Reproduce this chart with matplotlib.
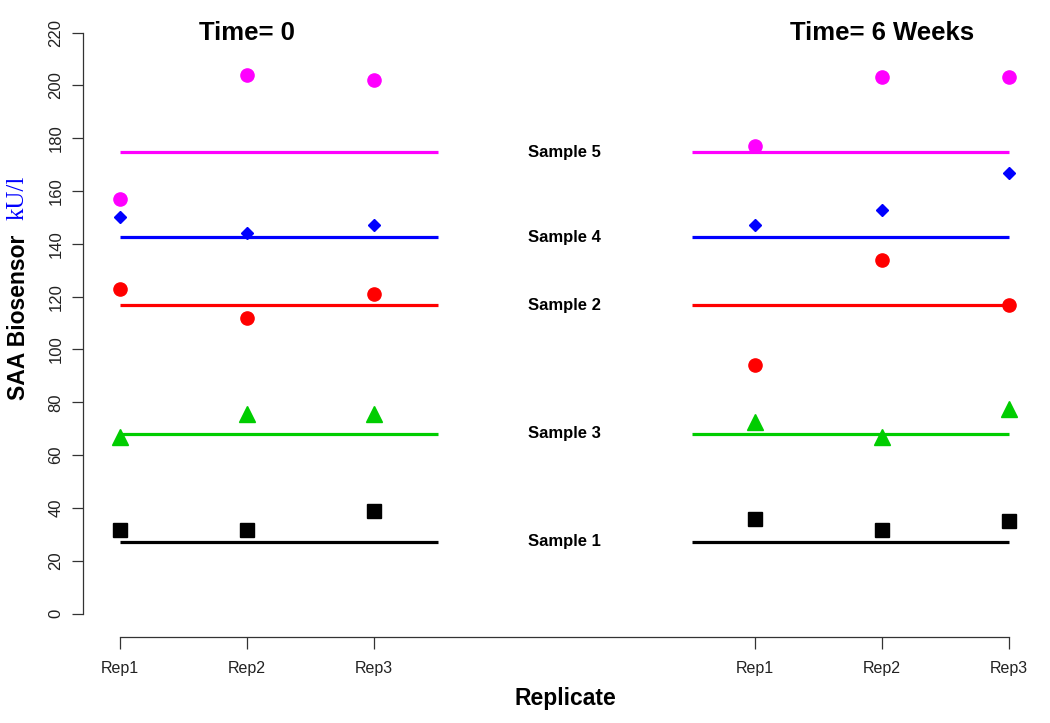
import matplotlib
matplotlib.use("Agg")
import matplotlib.pyplot as plt

plt.rcParams["font.family"] = ["Liberation Sans", "DejaVu Sans"]

# replicate positions: Time=0 -> 1,2,3 ; Time=6 weeks -> 6,7,8
x_t0 = [1, 2, 3]
x_t6 = [6, 7, 8]
rep_labels = ["Rep1", "Rep2", "Rep3"]

samples = ["Sample 1", "Sample 2", "Sample 3", "Sample 4", "Sample 5"]
sample_means = [27.2, 116.8, 68.0, 142.5, 174.7]
colors = ["black", "#FF0000", "#00CD00", "#0000FF", "#FF00FF"]
markers = ["s", "o", "^", "D", "o"]
marker_sizes = [9.5, 9.5, 11, 6, 9.5]

t0_values = [
    [31.8, 31.8, 39.0],
    [122.9, 111.9, 121.0],
    [67.0, 75.6, 75.6],
    [150.0, 144.0, 147.0],
    [156.9, 204.0, 201.9],
]
t6_values = [
    [35.9, 31.8, 35.2],
    [94.1, 133.8, 116.8],
    [72.6, 67.0, 77.5],
    [147.0, 153.0, 166.7],
    [176.9, 203.0, 203.0],
]

fig = plt.figure(figsize=(10.5, 7.23), dpi=100)
ax = fig.add_axes([83 / 1050, 1 - 637 / 723, (1045 - 83) / 1050, (637 - 20) / 723])

for i in range(len(samples)):
    ax.plot([1, 3.5], [sample_means[i]] * 2, color=colors[i], lw=2.3, solid_capstyle="butt")
    ax.plot([5.5, 8], [sample_means[i]] * 2, color=colors[i], lw=2.3, solid_capstyle="butt")
    ax.plot(x_t0, t0_values[i], linestyle="none", marker=markers[i],
            markersize=marker_sizes[i], color=colors[i], clip_on=False)
    ax.plot(x_t6, t6_values[i], linestyle="none", marker=markers[i],
            markersize=marker_sizes[i], color=colors[i], clip_on=False)
    ax.text(4.5, sample_means[i], samples[i], ha="center", va="center",
            fontsize=12, fontweight="bold")

ax.text(2, 220, "Time= 0", ha="center", va="center", fontsize=18.5, fontweight="bold")
ax.text(7, 220, "Time= 6 Weeks", ha="center", va="center", fontsize=18.5, fontweight="bold")

px_per_unit = 581.4 / 220
ax.set_xlim(1 - 37 / 127, 1 + 925 / 127)
ax.set_ylim(-23.5 / px_per_unit, 594 / px_per_unit)

ax.spines["top"].set_visible(False)
ax.spines["right"].set_visible(False)
ax.spines["left"].set_bounds(0, 220)
ax.spines["bottom"].set_bounds(1, 8)
for s in ["left", "bottom"]:
    ax.spines[s].set_linewidth(0.9)
    ax.spines[s].set_color("#333333")

ax.set_xticks(x_t0 + x_t6)
ax.set_xticklabels(rep_labels + rep_labels, fontsize=11.5, color="#222222")
ax.set_yticks(range(0, 221, 20))
ax.set_yticklabels([str(v) for v in range(0, 221, 20)], rotation=90, va="center",
                   fontsize=12, color="#222222")
ax.tick_params(axis="x", length=8.5, width=0.9, pad=9, color="#333333")
ax.tick_params(axis="y", length=8, width=0.9, pad=6, color="#333333")

fig.text(565 / 1050, 1 - 698 / 723, "Replicate", ha="center", va="center",
         fontsize=16.5, fontweight="bold")
fig.text(19 / 1050, 1 - 317 / 723, "SAA Biosensor", ha="center", va="center",
         rotation=90, fontsize=16.5, fontweight="bold")
fig.text(18 / 1050, 1 - 198 / 723, "kU/l", ha="center", va="center", rotation=90,
         fontsize=18, color="#0000FF", family=["Liberation Serif", "DejaVu Serif"])

fig.savefig("out.png", dpi=100)
